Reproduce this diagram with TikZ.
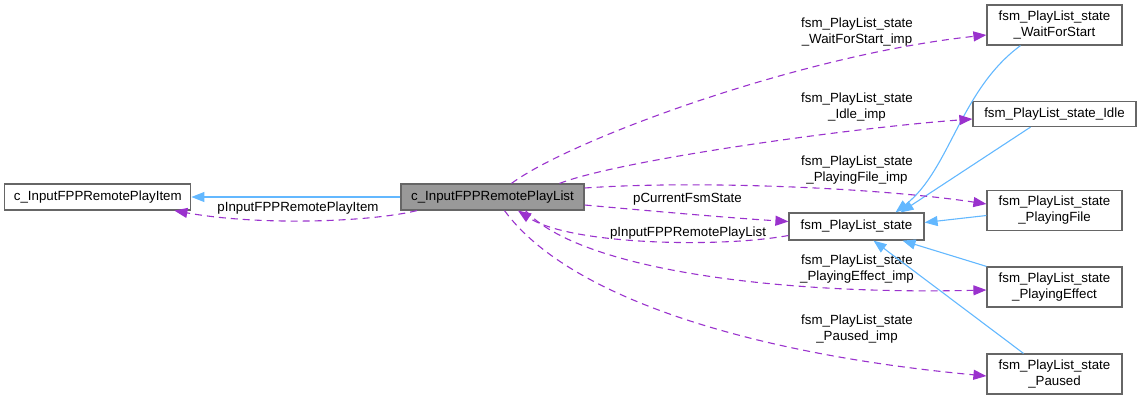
\documentclass[tikz,border=0pt]{standalone}
\usepackage{fontspec}
\setsansfont{Liberation Sans}
\usetikzlibrary{arrows.meta}
\definecolor{usecol}{HTML}{9A32CD}
\definecolor{inhcol}{HTML}{63B8FF}
\definecolor{boxline}{HTML}{666666}
\definecolor{boxfill}{HTML}{999999}
\begin{document}
\begin{tikzpicture}[x=1pt,y=-1pt,every node/.style={font=\sffamily\fontsize{13.3}{16}\selectfont},box/.style={draw=boxline,line width=1.2pt,fill=white,minimum width=135pt,minimum height=26pt,inner sep=0pt,align=center},tall/.style={box,minimum height=40pt},lbl/.style={inner sep=0pt,align=center},use/.style={draw=usecol,line width=1.1pt,dash pattern=on 7pt off 5pt,-{Triangle[length=13pt,width=10pt]}},inh/.style={draw=inhcol,line width=1.1pt,-{Triangle[length=13pt,width=10pt]}}]
\useasboundingbox (0,0) rectangle (1141,400);
\node[box,minimum width=186pt] (item) at (97.8,197){c\_InputFPPRemotePlayItem};
\node[box,fill=boxfill,minimum width=183pt] (list) at (492.5,197){c\_InputFPPRemotePlayList};
\node[box,minimum height=27pt] (state) at (856.5,226.5){fsm\_PlayList\_state};
\node[tall] (wait) at (1054.5,25){fsm\_PlayList\_state\\\_WaitForStart};
\node[box,minimum width=163pt,minimum height=25pt] (idle) at (1054.5,114){fsm\_PlayList\_state\_Idle};
\node[tall] (file) at (1054.5,210.5){fsm\_PlayList\_state\\\_PlayingFile};
\node[tall] (effect) at (1054.5,287){fsm\_PlayList\_state\\\_PlayingEffect};
\node[tall] (paused) at (1054.5,374){fsm\_PlayList\_state\\\_Paused};
\node[lbl] (litem) at (298,208){pInputFPPRemotePlayItem};
\node[lbl] (lwait) at (857,32.5){fsm\_PlayList\_state\\\_WaitForStart\_imp};
\node[lbl] (lidle) at (857,107.5){fsm\_PlayList\_state\\\_Idle\_imp};
\node[lbl] (lfile) at (857,170){fsm\_PlayList\_state\\\_PlayingFile\_imp};
\node[lbl] (lcur) at (687.5,199){pCurrentFsmState};
\node[lbl] (llist) at (688,233){pInputFPPRemotePlayList};
\node[lbl] (leffect) at (857,269){fsm\_PlayList\_state\\\_PlayingEffect\_imp};
\node[lbl] (lpaused) at (857,329.5){fsm\_PlayList\_state\\\_Paused\_imp};
\draw[inh] (list) -- (item);
\draw[inh] ([xshift=-34pt]wait.south) .. controls (960,90) and (950,170) .. ([xshift=39pt]state.north);
\draw[inh] ([xshift=-24pt]idle.south) -- ([xshift=44pt]state.north);
\draw[inh] ([yshift=-5pt]file.west) -- ([yshift=4pt]state.east);
\draw[inh] (effect.north west) -- ([xshift=46pt]state.south);
\draw[inh] ([xshift=-31pt]paused.north) -- ([xshift=17pt]state.south);
\draw[use] ([xshift=-75.5pt]list.south) .. controls (370,222) and (260,226) .. ([xshift=-17pt]item.south east);
\draw[use] ([xshift=19pt]list.north) .. controls (570,140) and (800,55) .. ([yshift=-10pt]wait.west);
\draw[use] ([xshift=67pt]list.north) .. controls (620,160) and (850,128) .. ([yshift=-5pt]idle.west);
\draw[use] ([yshift=9pt]list.east) .. controls (700,180) and (880,188) .. ([yshift=6.5pt]file.west);
\draw[use] ([yshift=-8pt]list.east) .. controls (640,210) and (730,218) .. ([yshift=5pt]state.west);
\draw[use] ([yshift=-9pt]state.west) .. controls (720,248) and (570,245) .. ([xshift=25.5pt]list.south);
\draw[use] ([xshift=33pt]list.south) .. controls (580,270) and (780,295) .. ([yshift=-3pt]effect.west);
\draw[use] ([xshift=12pt]list.south) .. controls (570,300) and (760,355) .. ([yshift=-2pt]paused.west);
\end{tikzpicture}
\end{document}
